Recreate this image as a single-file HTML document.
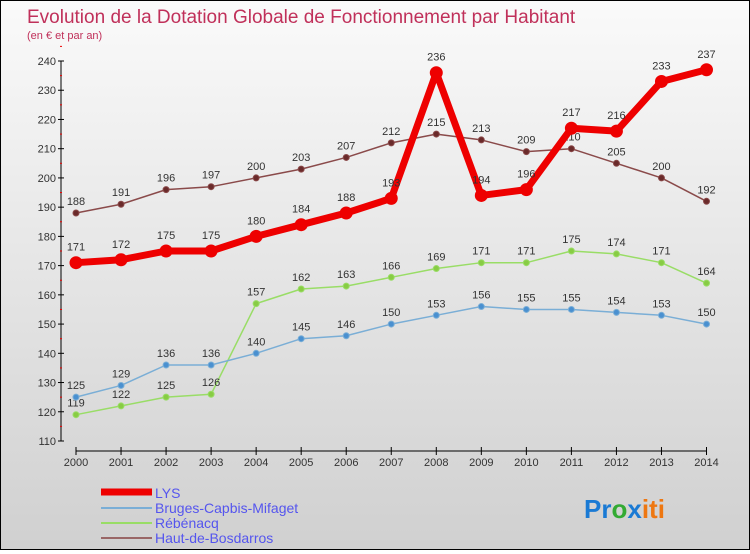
<!DOCTYPE html>
<html><head><meta charset="utf-8"><style>
html,body{margin:0;padding:0}
body{width:750px;height:550px;overflow:hidden;font-family:"Liberation Sans",sans-serif}
#wrap{position:relative;width:748px;height:548px;border:1px solid #000;background:linear-gradient(#fafafa,#d0d0d0)}
</style></head><body>
<div id="wrap">
<svg id="chart" width="748" height="548" xmlns="http://www.w3.org/2000/svg">
<text x="26" y="22" font-size="19" fill="#c0305a">Evolution de la Dotation Globale de Fonctionnement par Habitant</text>
<text x="26" y="38" font-size="11" fill="#c0305a">(en € et par an)</text>
<g id="axes"></g><g id="series"></g>
<g>
<line x1="100" y1="491" x2="151" y2="491" stroke="#e00" stroke-width="7"/>
<text x="154" y="497" font-size="14" fill="#5555ee">LYS</text>
<line x1="100" y1="507" x2="151" y2="507" stroke="#7aaed6" stroke-width="2"/>
<text x="154" y="512" font-size="14" fill="#5555ee">Bruges-Capbis-Mifaget</text>
<line x1="100" y1="522" x2="151" y2="522" stroke="#99dd66" stroke-width="2"/>
<text x="154" y="527" font-size="14" fill="#5555ee">Rébénacq</text>
<line x1="100" y1="537" x2="151" y2="537" stroke="#996666" stroke-width="2"/>
<text x="154" y="542" font-size="14" fill="#5555ee">Haut-de-Bosdarros</text>
</g>
<text x="583" y="517" font-size="26" font-weight="bold"><tspan fill="#1a7ad4">Pr</tspan><tspan fill="#33aa33">o</tspan><tspan fill="#1a7ad4">x</tspan><tspan fill="#ee7711">iti</tspan></text>
</svg></div>
<script>
const years=["2000","2001","2002","2003","2004","2005","2006","2007","2008","2009","2010","2011","2012","2013","2014"];
const yTicks=[110,120,130,140,150,160,170,180,190,200,210,220,230,240];
const lys=[171,172,175,175,180,184,188,193,236,194,196,217,216,233,237];
const bruges=[125,129,136,136,140,145,146,150,153,156,155,155,154,153,150];
const rebenacq=[119,122,125,126,157,162,163,166,169,171,171,175,174,171,164];
const haut=[188,191,196,197,200,203,207,212,215,213,209,210,205,200,192];
const NS="http://www.w3.org/2000/svg";
const X=i=>75+i*(705.5-75)/14;
const Y=v=>440-(v-110)*(380/130);
function mk(t,a,p){const e=document.createElementNS(NS,t);for(const k in a)e.setAttribute(k,a[k]);p.appendChild(e);return e;}
const ax=document.getElementById('axes');
let e=mk('line',{x1:60,y1:Y(240),x2:60,y2:Y(110),stroke:'#000'},ax);


e=mk('line',{x1:75,y1:450,x2:705.5,y2:450,stroke:'#000'},ax);


yTicks.forEach(v=>{mk('line',{x1:57,y1:Y(v),x2:63,y2:Y(v),stroke:'#000'},ax);
 mk('line',{x1:59,y1:Y(v+5),x2:61,y2:Y(v+5),stroke:'#e00'},ax);
 const t=mk('text',{x:55,y:Y(v)+4,'font-size':11,'text-anchor':'end',fill:'#333'},ax);t.textContent=v;
 
 });
years.forEach((y,i)=>{mk('line',{x1:X(i),y1:446,x2:X(i),y2:454,stroke:'#000'},ax);
 const t=mk('text',{x:X(i),y:465,'font-size':11,'text-anchor':'middle',fill:'#333'},ax);t.textContent=y;
 
 });
const sg=document.getElementById('series');
function draw(name,data,color,w,r,fill,lblOff){
 const g=mk('g',{},sg);
 
 
 mk('polyline',{points:data.map((v,i)=>X(i)+','+Y(v)).join(' '),fill:'none',stroke:color,'stroke-width':w,'stroke-linejoin':'round'},g);
 data.forEach((v,i)=>{const c=mk('circle',{cx:X(i),cy:Y(v),r:r,fill:fill,stroke:color,'stroke-width':1},g);
  
  
  const t=mk('text',{x:X(i),y:Y(v)-lblOff,'font-size':11,'text-anchor':'middle',fill:'#333'},g);t.textContent=v;});
}
draw('rebenacq',rebenacq,'#99dd66',1.5,3,'#88cc44',8);
draw('bruges',bruges,'#7aaed6',1.5,3,'#4a90d0',8);
draw('haut',haut,'#8a4a4a',1.5,3,'#6a2a2a',8);
draw('lys',lys,'#ee0000',7,6,'#ee0000',12);
</script>
</body></html>
